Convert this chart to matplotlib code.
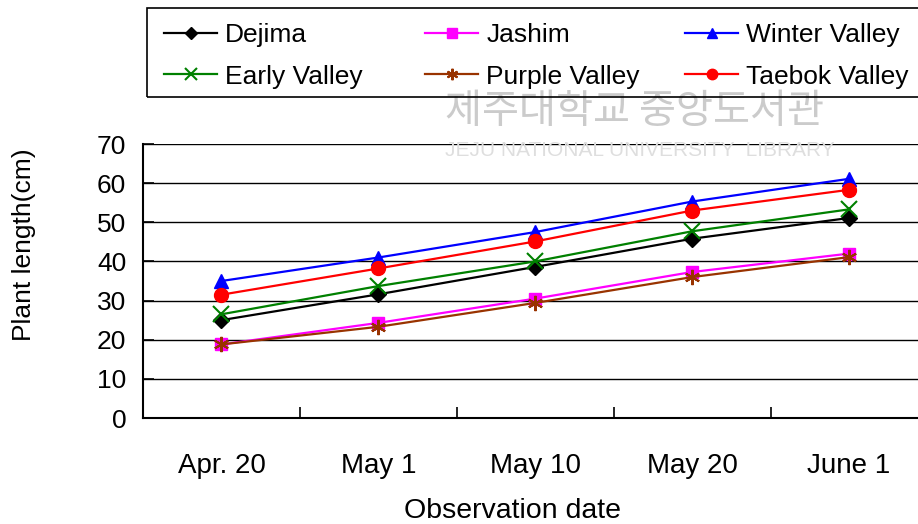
import matplotlib
matplotlib.use("Agg")
import matplotlib.pyplot as plt
from matplotlib.patches import Rectangle

plt.rcParams['font.family'] = ['Liberation Sans', 'DejaVu Sans']

dates = ["Apr. 20", "May 1", "May 10", "May 20", "June 1"]

dejima = [25.0, 31.6, 38.6, 45.8, 51.1]
jashim = [18.8, 24.3, 30.5, 37.3, 42.0]
winter_valley = [35.0, 41.0, 47.5, 55.3, 61.1]
early_valley = [26.5, 33.7, 40.0, 47.7, 53.3]
purple_valley = [18.8, 23.3, 29.4, 36.0, 41.1]
taebok_valley = [31.5, 38.2, 45.1, 53.0, 58.3]

series = [
    ("Dejima", dejima, "black", "D", 8),
    ("Jashim", jashim, "#ff00ff", "s", 9),
    ("Winter Valley", winter_valley, "#0000ff", "^", 10),
    ("Early Valley", early_valley, "#008000", "x", 11),
    ("Purple Valley", purple_valley, "#993300", (6, 2, 0), 11),
    ("Taebok Valley", taebok_valley, "#ff0000", "o", 10),
]

fig = plt.figure(figsize=(9.18, 5.24), dpi=100)
ax = fig.add_axes([143/918, 1 - 418/524, 1 - 143/918, (418 - 144)/524])

x = list(range(len(dates)))
lines = []
for name, vals, color, marker, ms in series:
    ln, = ax.plot(
        x, vals,
        color=color,
        marker=marker,
        markersize=ms,
        markeredgewidth=1.5 if marker in ("x", (6, 2, 0)) else 1,
        linewidth=1.6,
        label=name,
        clip_on=False,
        zorder=3
    )
    lines.append(ln)

ax.set_xlim(-0.5, 4.44)
ax.set_ylim(0, 70)
ax.set_yticks(range(0, 71, 10))
ax.set_xticks([i + 0.5 for i in range(4)])
ax.set_xticklabels([])
ax.set_xticks(x, minor=True)
ax.set_xticklabels(dates, minor=True, fontsize=20)
ax.tick_params(axis='x', which='major', direction='in', length=8, width=1.2)
ax.tick_params(axis='x', which='minor', length=0, pad=25)
ax.tick_params(axis='y', direction='in', length=8, width=1.2, labelsize=19, pad=12)

ax.grid(axis='y', color='black', linewidth=1)
ax.set_axisbelow(True)
for s in ("top", "right"):
    ax.spines[s].set_visible(False)
for s in ("left", "bottom"):
    ax.spines[s].set_linewidth(1.5)

ax.set_xlabel("Observation date", fontsize=20.5)
ax.xaxis.set_label_coords((512 - 143)/775, -80/274)
ax.set_ylabel("Plant length(cm)", fontsize=19)
ax.yaxis.set_label_coords(-107/775, (418 - 245)/274)

# watermark
fig.text(445/918, 1 - 111/524, "제주대학교 중앙도서관", fontsize=29,
         family=['Noto Sans CJK KR'], color='#cbcbcb', va='center', zorder=0)
fig.text(445/918, 1 - 151/524, "JEJU NATIONAL UNIVERSITY  LIBRARY", fontsize=15,
         color='#dedede', va='center', zorder=0)

# legend frame and three columns
fig.patches.append(Rectangle((147/918, 1 - 97/524), 1, (97 - 8)/524,
                             transform=fig.transFigure, fill=False,
                             edgecolor='black', linewidth=1.2))
col_x = [146, 407, 667]
for i, cx in enumerate(col_x):
    fig.legend(
        [lines[i], lines[i + 3]],
        [series[i][0], series[i + 3][0]],
        loc='upper left',
        bbox_to_anchor=(cx/918, 1 - 5/524),
        frameon=False,
        fontsize=19,
        handlelength=2.0,
        handletextpad=0.3,
        labelspacing=0.65,
        borderpad=0.2,
        markerscale=0.75
    )

plt.savefig("out.png", dpi=100)
